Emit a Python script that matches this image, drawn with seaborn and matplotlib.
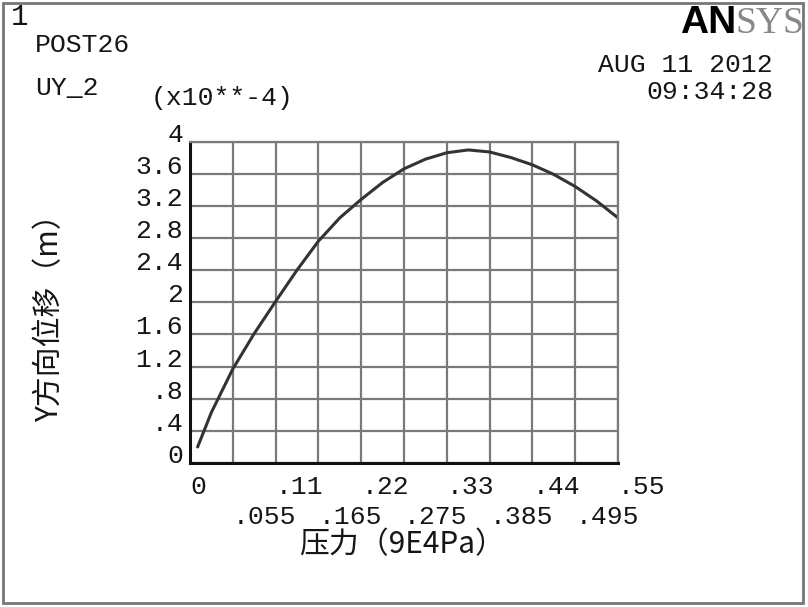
import matplotlib
matplotlib.use("Agg")
import matplotlib.pyplot as plt
from matplotlib.patches import Rectangle
import seaborn as sns
import pandas as pd

# POST26 curve UY_2 vs pressure
pressao = [0.0098, 0.0275, 0.055, 0.0825, 0.11, 0.1375, 0.165, 0.1925, 0.22, 0.2475, 0.275,
           0.3025, 0.33, 0.3575, 0.385, 0.4125, 0.44, 0.4675, 0.495, 0.5225, 0.55]
uy = [0.20, 0.63, 1.17, 1.61, 2.01, 2.40, 2.76, 3.05, 3.28, 3.49, 3.66,
      3.78, 3.86, 3.895, 3.87, 3.80, 3.71, 3.59, 3.44, 3.26, 3.05]

x_major = [0, 0.11, 0.22, 0.33, 0.44, 0.55]
x_major_labels = ['0', '.11', '.22', '.33', '.44', '.55']
x_minor = [0.055, 0.165, 0.275, 0.385, 0.495]
x_minor_labels = ['.055', '.165', '.275', '.385', '.495']
y_ticks = [0, 0.4, 0.8, 1.2, 1.6, 2.0, 2.4, 2.8, 3.2, 3.6, 4.0]
y_labels = ['0', '.4', '.8', '1.2', '1.6', '2', '2.4', '2.8', '3.2', '3.6', '4']

sns.set_style("white")
plt.rcParams['font.family'] = ['Liberation Mono', 'DejaVu Sans']
CJK = ['Noto Sans CJK SC', 'DejaVu Sans']
MONO = 19
COR_TXT = '#151515'
W, H = 808, 607


def px(x, y):
    return x / W, 1 - y / H


df = pd.DataFrame({'Pressao': pressao, 'UY': uy})

fig = plt.figure(figsize=(W / 100, H / 100), dpi=100)
ax = fig.add_axes([190 / W, 1 - 463 / H, 428 / W, 321.5 / H])

sns.lineplot(data=df, x='Pressao', y='UY', ax=ax, color='#333333', lw=2.2)

ax.set_xlim(0, 0.55)
ax.set_ylim(0, 4)
ax.set_xticks(x_major)
ax.set_xticklabels(x_major_labels, ha='left')
ax.set_xticks(x_minor, minor=True)
ax.set_xticklabels(x_minor_labels, minor=True, ha='left')
ax.set_yticks(y_ticks)
ax.set_yticklabels(y_labels, va='baseline')

ax.grid(True, which='both', color='#7a7a7a', lw=1.6)
ax.set_axisbelow(True)
ax.tick_params(axis='x', which='major', direction='out', length=6.5, width=1.6,
               color='#7a7a7a', pad=2.5, labelsize=MONO, labelcolor=COR_TXT)
ax.tick_params(axis='x', which='minor', direction='out', length=6.5, width=1.6,
               color='#7a7a7a', pad=23.5, labelsize=MONO, labelcolor=COR_TXT)
ax.tick_params(axis='y', length=0, pad=5, labelsize=MONO, labelcolor=COR_TXT)

for lado in ['top', 'right']:
    ax.spines[lado].set_color('#7a7a7a')
    ax.spines[lado].set_linewidth(1.6)
for lado in ['left', 'bottom']:
    ax.spines[lado].set_color('#111111')
    ax.spines[lado].set_linewidth(2.2)

ax.set_xlabel('压力（9E4Pa）', family=CJK, fontsize=21.5, color=COR_TXT, va='center')
ax.xaxis.set_label_coords((402 - 190) / 428, -(545 - 463) / 321.5)
ax.set_ylabel('Y方向位移（m）', family=CJK, fontsize=21.5, color=COR_TXT, va='center')
ax.yaxis.set_label_coords(-(190 - 50) / 428, (463 - 311) / 321.5)

# cabeçalho no estilo ANSYS
fig.text(*px(11, 25), '1', fontsize=21, color=COR_TXT)
fig.text(*px(35, 52), 'POST26', fontsize=MONO, color=COR_TXT)
fig.text(*px(35, 95), 'UY_2', fontsize=MONO, color=COR_TXT)
fig.text(*px(151, 105), '(x10**-4)', fontsize=MONO, color=COR_TXT)
fig.text(*px(773, 72), 'AUG 11 2012', fontsize=MONO, color=COR_TXT, ha='right')
fig.text(*px(773, 99), '09:34:28', fontsize=MONO, color=COR_TXT, ha='right')
fig.text(*px(736, 33), 'AN', family='Liberation Sans', fontweight='bold',
         fontsize=28, color='black', ha='right')
fig.text(*px(735, 33), 'SYS', family='Liberation Serif', fontsize=27,
         color='#888888', ha='left')

fig.patches.append(Rectangle((3 / W, 1 - 603 / H), 800 / W, 600 / H,
                             transform=fig.transFigure, fill=False,
                             edgecolor='#777777', lw=2))

fig.savefig('out.png', dpi=100)
